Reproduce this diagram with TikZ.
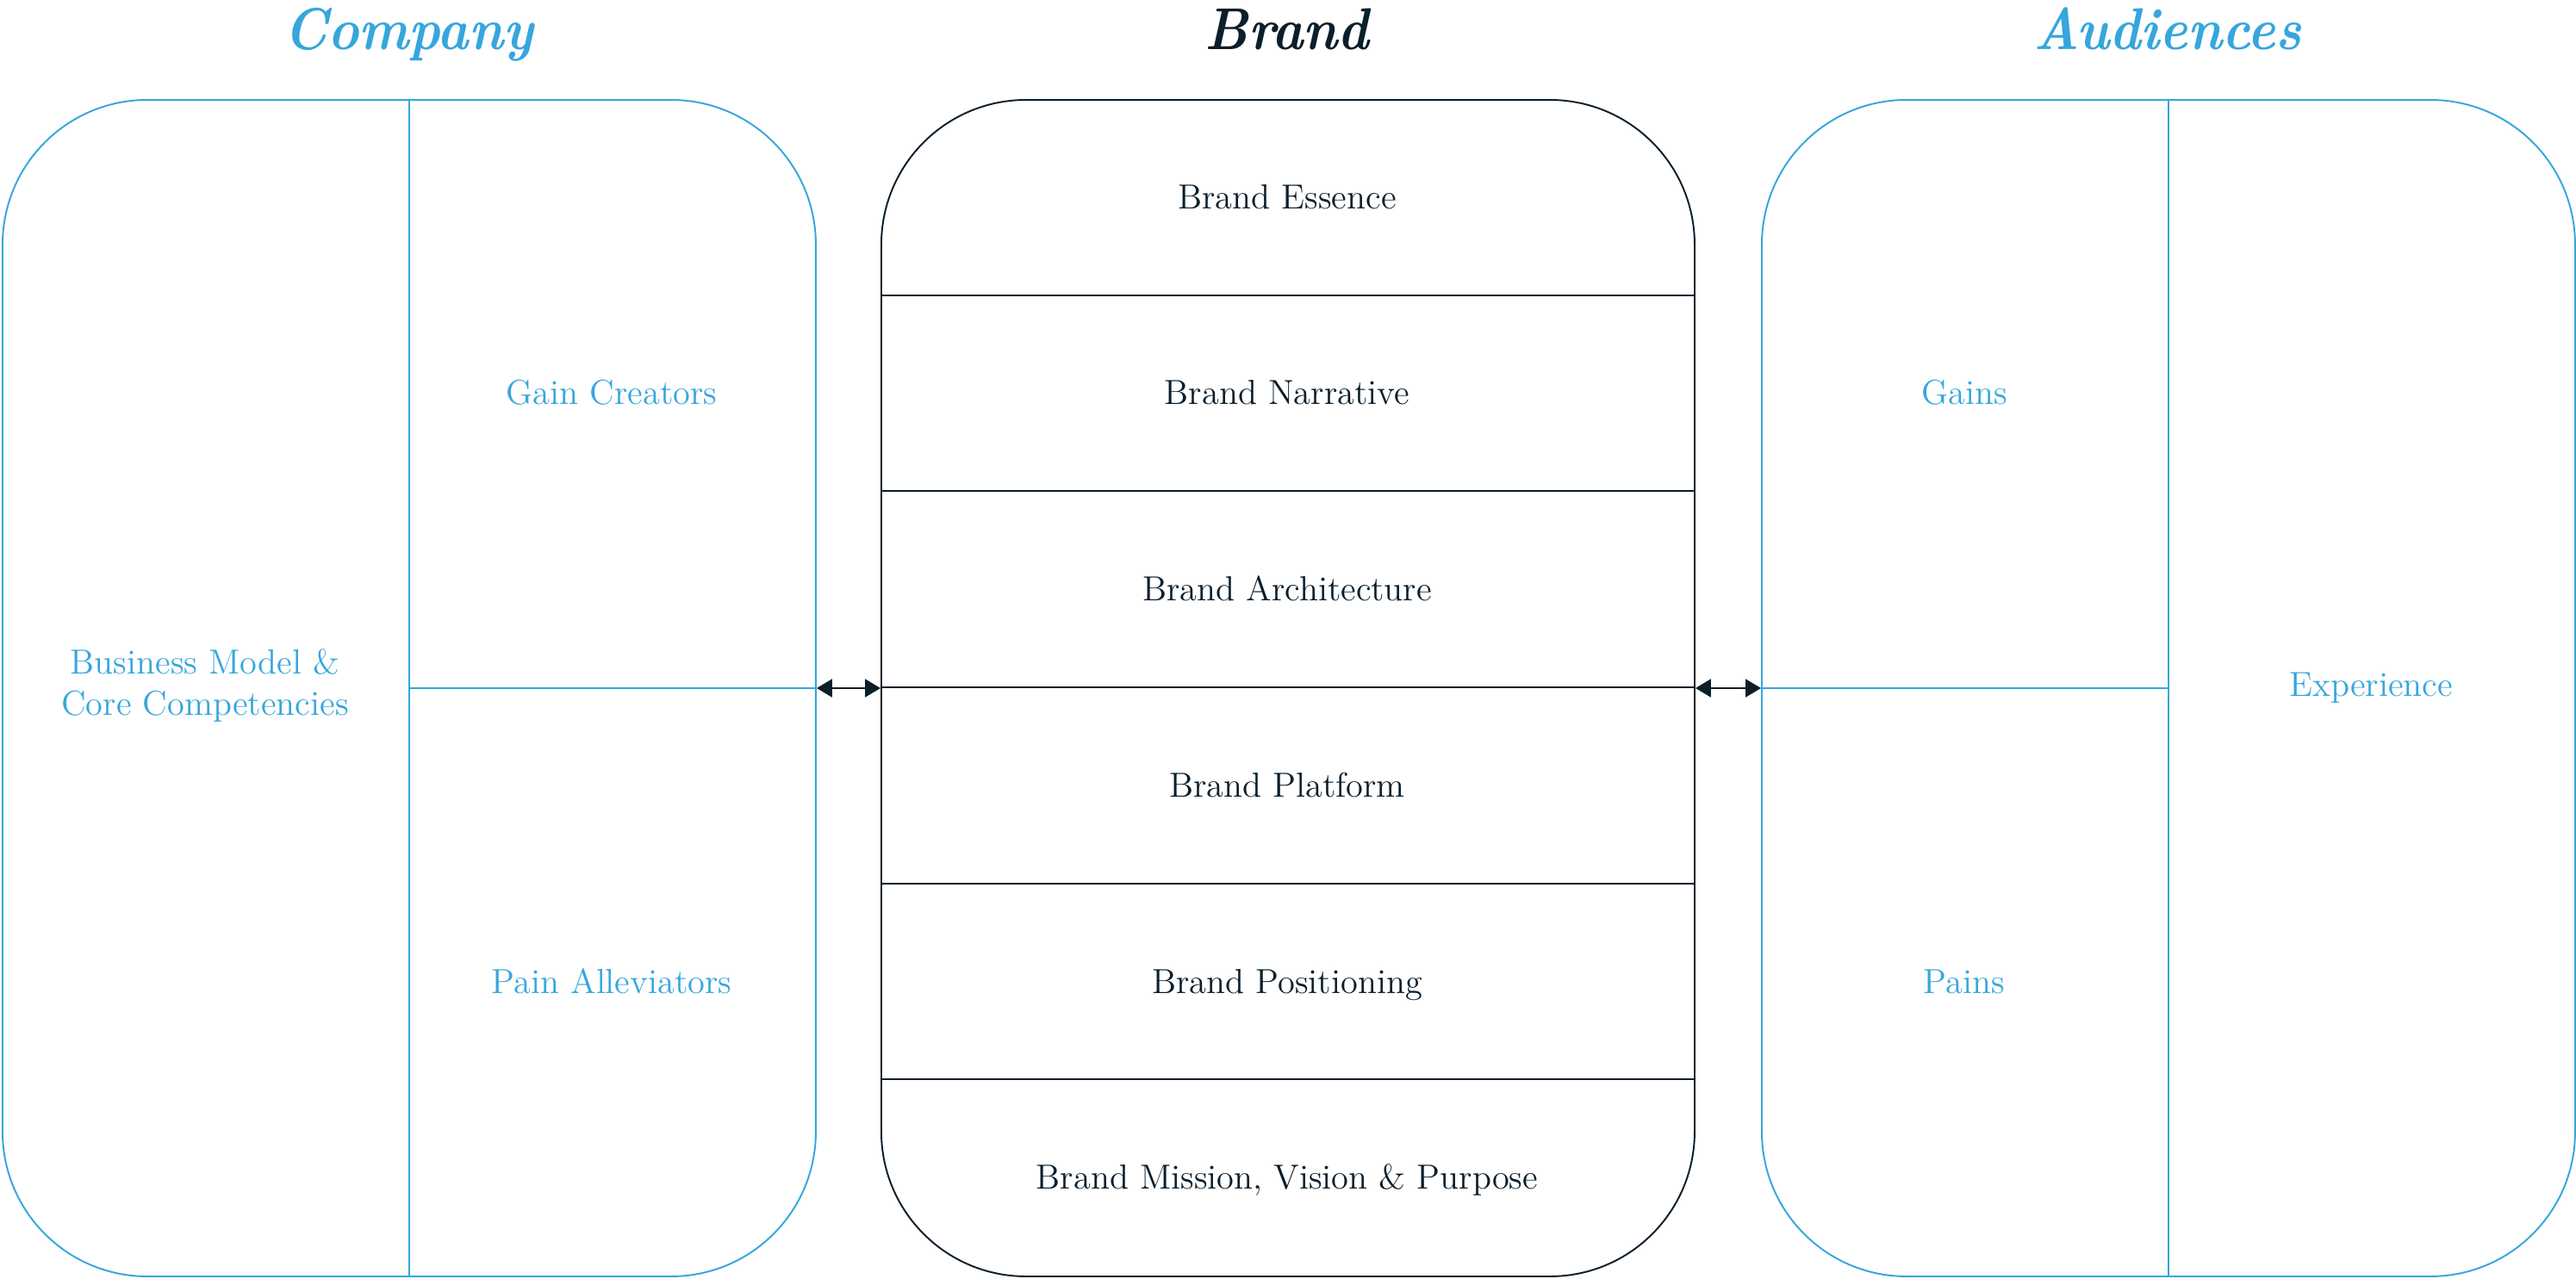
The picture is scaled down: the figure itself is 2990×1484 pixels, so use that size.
\documentclass[tikz,border=0pt]{standalone}
\usepackage{fontspec}
\usepackage{graphicx}
\usetikzlibrary{arrows.meta}
\definecolor{cblue}{HTML}{36A6DC}
\definecolor{cnavy}{HTML}{0A1E2C}
\newcommand{\ttlbox}[1]{\scalebox{0.9}[1]{#1}}
\begin{document}
\begin{tikzpicture}[x=0.1mm,y=-0.1mm,
  box/.style={draw, rounded corners=16.8mm, line width=0.55pt, minimum width=94.4mm, minimum height=136.6mm, anchor=north west, inner sep=0pt},
  bluebox/.style={box, draw=cblue},
  navybox/.style={box, draw=cnavy},
  bluel/.style={draw=cblue, line width=0.55pt},
  navyl/.style={draw=cnavy, line width=0.55pt},
  lbl/.style={font=\fontsize{11.5}{13.6}\selectfont, inner sep=0pt},
  one/.style={lbl, text height=2.75mm, text depth=0pt},
  lblblue/.style={one, text=cblue},
  lblnavy/.style={one, text=cnavy},
  ttl/.style={font=\fontsize{19.5}{22}\selectfont\bfseries\itshape, anchor=base, inner sep=0pt},
  dbl/.style={draw=cnavy, line width=0.55pt, {Triangle[length=1.8mm,width=2.1mm]}-{Triangle[length=1.8mm,width=2.1mm]}, shorten <=0pt, shorten >=0pt}
]
\useasboundingbox (0,0) rectangle (2990,1484);

% titles
\node[ttl, text=cblue] (tcompany) at (474,57) {\ttlbox{Company}};
\node[ttl, text=cnavy] (tbrand) at (1494,57) {\ttlbox{Brand}};
\node[ttl, text=cblue] (taud) at (2516,57) {\ttlbox{Audiences}};

% boxes
\node[bluebox] (company) at (2,115) {};
\node[navybox] (brand) at (1022,115) {};
\node[bluebox] (aud) at (2044,115) {};

% company dividers
\draw[bluel] (company.north) -- (company.south);
\draw[bluel] (company.center) -- (company.east);

% audiences dividers
\draw[bluel] (aud.north) -- (aud.south);
\draw[bluel] (aud.west) -- (aud.center);

% brand rows
\foreach \yy in {342.7,570.3,798,1025.7,1253.3}
  \draw[navyl] (1022,\yy) -- (1966,\yy);

% arrows
\draw[dbl] (company.east) -- (brand.west);
\draw[dbl] (brand.east) -- (aud.west);

% company labels
\node[lbl, text=cblue, align=center] (bm) at (238,796) {Business Model \&\\Core Competencies};
\node[lblblue] (gc) at (710,456) {Gain Creators};
\node[lblblue] (pa) at (710,1140) {Pain Alleviators};

% brand labels
\node[lblnavy] (b1) at (1494,229) {Brand Essence};
\node[lblnavy] (b2) at (1494,456) {Brand Narrative};
\node[lblnavy] (b3) at (1494,684) {Brand Architecture};
\node[lblnavy] (b4) at (1494,912) {Brand Platform};
\node[lblnavy] (b5) at (1494,1140) {Brand Positioning};
\node[lblnavy] (b6) at (1494,1367) {Brand Mission, Vision \& Purpose};

% audience labels
\node[lblblue] (ga) at (2280,456) {Gains};
\node[lblblue] (pn) at (2280,1140) {Pains};
\node[lblblue] (ex) at (2752,795) {Experience};
\end{tikzpicture}
\end{document}
